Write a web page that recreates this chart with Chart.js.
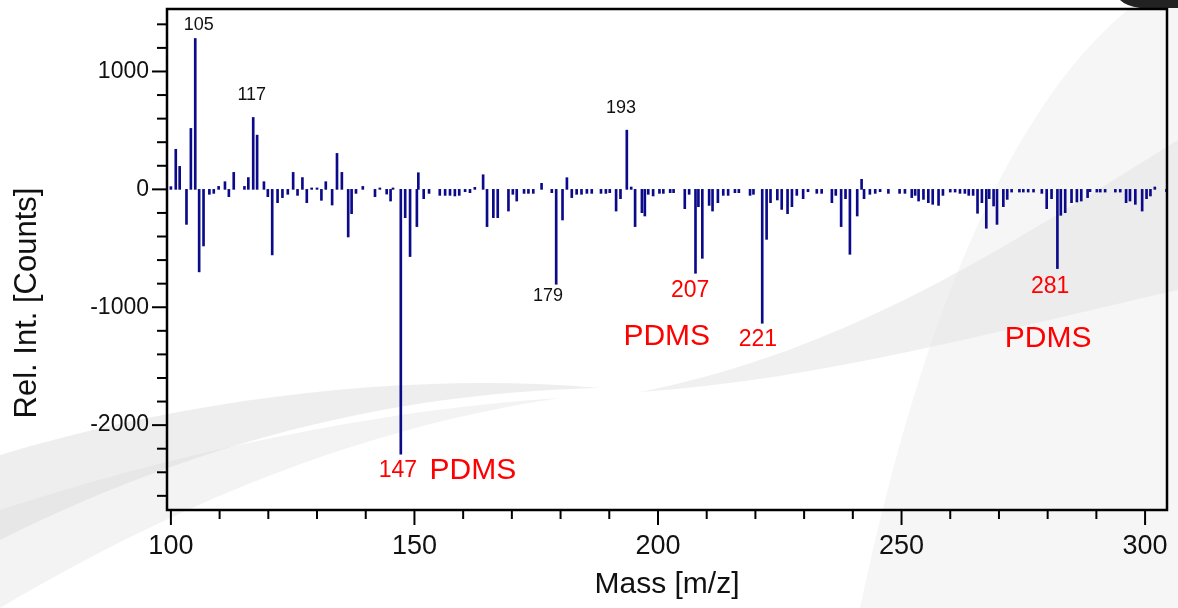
<!DOCTYPE html>
<html>
<head>
<meta charset="utf-8">
<script src="https://cdn.jsdelivr.net/npm/chart.js@4/dist/chart.umd.min.js"></script>
<style>
  html, body { margin: 0; padding: 0; background: #fff; }
  #wrap { width: 1178px; height: 608px; }
</style>
</head>
<body>
<div id="wrap"><canvas id="spectrum"></canvas></div>
<script>
// peak positions (m/z) and difference intensities (counts)
var masses = [
  100.0, 101.0, 101.8, 103.2, 104.1, 105.0, 105.8, 106.7, 107.9, 108.8,
  109.8, 111.1, 111.9, 112.9, 115.1, 115.9, 116.9, 117.7, 119.1, 119.9,
  120.8, 121.9, 122.9, 124.0, 125.1, 126.0, 127.0, 127.9, 128.9, 130.0,
  130.9, 131.8, 133.1, 134.1, 135.1, 136.4, 137.1, 138.0, 139.4, 141.9,
  142.9, 144.3, 145.1, 145.6, 147.2, 148.1, 149.1, 150.5, 150.8, 151.9,
  153.0, 155.2, 156.3, 157.3, 158.3, 159.2, 160.4, 161.4, 162.4, 164.1,
  164.9, 166.2, 167.1, 169.3, 170.2, 171.0, 172.5, 173.4, 174.4, 176.1,
  178.2, 179.1, 180.4, 181.3, 182.3, 183.3, 184.3, 185.4, 186.4, 188.3,
  189.3, 190.1, 191.4, 192.3, 193.6, 194.5, 195.3, 196.7, 197.3, 198.0,
  199.0, 200.3, 201.1, 202.5, 203.2, 205.5, 206.4, 207.7, 208.3, 209.1,
  210.5, 211.2, 212.3, 213.4, 214.4, 215.8, 216.6, 218.9, 219.6, 221.4,
  222.3, 223.1, 224.5, 225.4, 226.6, 227.5, 228.5, 229.8, 230.8, 232.6,
  233.6, 235.7, 236.5, 237.6, 238.5, 239.4, 240.9, 241.8, 242.3, 243.5,
  244.6, 245.6, 247.3, 249.6, 250.7, 252.1, 252.8, 253.5, 254.5, 255.5,
  256.4, 257.6, 258.5, 260.0, 261.0, 262.0, 263.0, 263.8, 264.7, 265.6,
  266.5, 267.4, 268.0, 268.9, 269.6, 270.9, 271.7, 272.6, 274.2, 275.0,
  276.0, 277.1, 278.8, 279.8, 280.8, 282.0, 282.7, 283.6, 284.9, 286.0,
  286.9, 288.2, 288.7, 290.1, 290.8, 291.8, 293.9, 294.9, 296.1, 296.9,
  298.0, 299.4, 300.3, 301.1, 302.0, 304.4
];
var counts = [
  23, 340, 195, -297, 517, 1280, -700, -480, -42, -34,
  25, 65, -62, 144, 25, 100, 610, 460, 65, -62,
  -556, -113, -70, -42, 144, -51, 100, -113, 12, 12,
  -93, 65, -133, 305, 144, -404, -206, -34, 25, -62,
  12, -40, -99, 12, -2246, -240, -570, -316, 141, -79,
  -34, -51, -51, -51, -56, -51, -20, -28, 17, 124,
  -316, -240, -240, -184, -42, -99, -34, -34, -34, 51,
  -28, -805, -260, 99, -70, -42, -42, -34, -34, -34,
  -34, -28, -184, -79, 502, 20, -316, -198, -226, -42,
  -56, -34, -34, -28, -28, -164, -42, -712, -147, -585,
  -136, -184, -113, -51, -51, -28, -28, -51, -42, -1136,
  -424, -113, -90, -170, -206, -147, -51, -79, -20, -34,
  -34, -113, -51, -316, -79, -551, -226, 85, -79, -42,
  -34, -20, -34, -34, -34, -70, -51, -99, -85, -113,
  -127, -136, -51, -23, -23, -34, -34, -51, -51, -203,
  -113, -330, -79, -141, -297, -147, -85, -23, -23, -23,
  -23, -23, -34, -164, -79, -672, -220, -198, -113, -107,
  -99, -70, -20, -23, -23, -23, -23, -23, -113, -99,
  -127, -184, -79, -56, 20, -20
];

// peak labels: text, m/z, counts, colour, size
var labelTexts  = ["105", "117", "193", "179", "207", "221", "281", "147", "PDMS", "PDMS", "PDMS"];
var labelMass   = [105.7, 116.6, 192.4, 177.4, 206.6, 220.5, 280.5, 146.6, 162.0, 201.8, 280.1];
var labelCounts = [1398, 797, 686, -907, -856, -1271, -822, -2390, -2390, -1254, -1271];
var labelColors = ["#111", "#111", "#111", "#111", "red", "red", "red", "red", "red", "red", "red"];
var labelSizes  = [18, 18, 18, 18, 23, 23, 23, 23, 30, 30, 30];

var FONT = "'Liberation Sans', Arial, sans-serif";

var backdrop = {
  id: "backdrop",
  beforeDraw: function (chart) {
    var c = chart.ctx;
    c.save();
    c.fillStyle = "#ffffff";
    c.fillRect(0, 0, chart.width, chart.height);
    // soft grey swooshes of the slide background
    c.fillStyle = "rgba(205,205,205,0.35)";
    c.beginPath();
    c.moveTo(0, 455);
    c.bezierCurveTo(200, 395, 420, 372, 600, 388);
    c.bezierCurveTo(420, 392, 220, 430, 0, 540);
    c.closePath();
    c.fill();
    c.fillStyle = "rgba(215,215,215,0.3)";
    c.beginPath();
    c.moveTo(0, 510);
    c.bezierCurveTo(200, 445, 400, 408, 560, 398);
    c.bezierCurveTo(380, 425, 200, 490, 0, 608);
    c.closePath();
    c.fill();
    c.fillStyle = "rgba(205,205,205,0.3)";
    c.beginPath();
    c.moveTo(640, 392);
    c.bezierCurveTo(850, 350, 1000, 250, 1178, 140);
    c.lineTo(1178, 290);
    c.bezierCurveTo(1000, 330, 820, 380, 640, 392);
    c.closePath();
    c.fill();
    c.fillStyle = "rgba(228,228,228,0.35)";
    c.beginPath();
    c.moveTo(860, 608);
    c.bezierCurveTo(900, 420, 980, 120, 1140, 0);
    c.lineTo(1178, 0);
    c.lineTo(1178, 608);
    c.closePath();
    c.fill();
    c.fillStyle = "#222";
    c.beginPath();
    c.moveTo(1120, 0);
    c.lineTo(1178, 0);
    c.lineTo(1178, 8);
    c.lineTo(1140, 8);
    c.quadraticCurveTo(1126, 6, 1120, 0);
    c.fill();
    c.restore();
  }
};

var frame = {
  id: "frame",
  afterDraw: function (chart) {
    var c = chart.ctx, a = chart.chartArea;
    var xs = chart.scales.x, ys = chart.scales.y;
    c.save();
    c.strokeStyle = "#000";
    c.lineWidth = 2.5;
    c.strokeRect(a.left, a.top, a.right - a.left, a.bottom - a.top);
    c.lineWidth = 2;
    xs.ticks.forEach(function (t) {
      var px = xs.getPixelForValue(t.value);
      var len = t.value % 50 === 0 ? 15 : 9;
      c.beginPath();
      c.moveTo(px, a.bottom);
      c.lineTo(px, a.bottom + len);
      c.stroke();
    });
    ys.ticks.forEach(function (t) {
      var py = ys.getPixelForValue(t.value);
      var len = t.value % 1000 === 0 ? 15 : 10;
      c.beginPath();
      c.moveTo(a.left, py);
      c.lineTo(a.left - len, py);
      c.stroke();
    });
    // axis titles
    c.fillStyle = "#111";
    c.textAlign = "center";
    c.textBaseline = "middle";
    c.font = "30px " + FONT;
    c.fillText("Mass [m/z]", (a.left + a.right) / 2, 585);
    c.translate(27, 303);
    c.rotate(-Math.PI / 2);
    c.font = "31px " + FONT;
    c.fillText("Rel. Int. [Counts]", 0, 0);
    c.restore();
  },
  afterDatasetsDraw: function (chart) {
    var c = chart.ctx;
    var xs = chart.scales.x, ys = chart.scales.y;
    c.save();
    c.textAlign = "center";
    c.textBaseline = "middle";
    for (var i = 0; i < labelTexts.length; i++) {
      c.fillStyle = labelColors[i];
      c.font = labelSizes[i] + "px " + FONT;
      c.fillText(labelTexts[i], xs.getPixelForValue(labelMass[i]), ys.getPixelForValue(labelCounts[i]));
    }
    c.restore();
  }
};

new Chart("spectrum", {
  type: "bar",
  data: {
    datasets: [{
      data: masses.map(function (m, i) { return { x: m, y: counts[i] }; }),
      backgroundColor: "#0b0b8a",
      barThickness: 2,
      borderWidth: 0
    }]
  },
  plugins: [backdrop, frame],
  options: {
    responsive: true,
    maintainAspectRatio: false,
    animation: false,
    layout: { padding: { top: 9, right: 11, left: 0, bottom: 0 } },
    plugins: { legend: { display: false }, tooltip: { enabled: false } },
    scales: {
      x: {
        type: "linear",
        min: 99.2,
        max: 304.5,
        offset: false,
        grid: { display: false, drawTicks: false },
        border: { display: false },
        afterFit: function (s) { s.height = 98; s.paddingLeft = 0; s.paddingRight = 0; },
        ticks: {
          stepSize: 10,
          includeBounds: false,
          autoSkip: false,
          maxRotation: 0,
          padding: 20,
          color: "#111",
          font: { family: FONT, size: 27 },
          callback: function (v) { return v % 50 === 0 ? String(v) : ""; }
        }
      },
      y: {
        min: -2720,
        max: 1530,
        grid: { display: false, drawTicks: false },
        border: { display: false },
        afterFit: function (s) { s.width = 167; s.paddingTop = 0; s.paddingBottom = 0; },
        ticks: {
          stepSize: 200,
          includeBounds: false,
          autoSkip: false,
          padding: 18,
          color: "#111",
          font: { family: FONT, size: 23 },
          callback: function (v) { return v % 1000 === 0 ? String(v) : ""; }
        }
      }
    }
  }
});
</script>
</body>
</html>
